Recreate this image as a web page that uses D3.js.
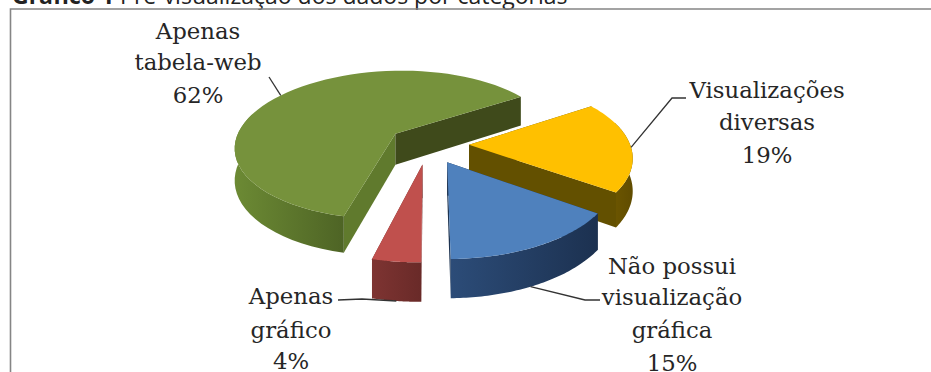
<!DOCTYPE html>
<html lang="pt">
<head>
<meta charset="utf-8">
<script src="https://cdn.jsdelivr.net/npm/d3@7"></script>
<style>
  html, body { margin: 0; padding: 0; background: #fff; overflow: hidden; }
  svg { display: block; }
  .caption { font-family: "Open Sans", sans-serif; font-size: 23px; fill: #222; }
  .label { font-family: "DejaVu Serif", serif; font-size: 22.8px; fill: #262626; text-anchor: middle; }
  .leader { fill: none; stroke: #333; stroke-width: 1.3; }
</style>
</head>
<body>
<svg id="chart" width="931" height="372"></svg>
<script>
// Categories and shares, in clockwise drawing order
const categories = ["Visualizações diversas", "Não possui visualização gráfica", "Apenas gráfico", "Apenas tabela-web"];
const shares = [19, 15, 4, 62];
const labelLines = [
  ["Visualizações", "diversas", "19%"],
  ["Não possui", "visualização", "gráfica", "15%"],
  ["Apenas", "gráfico", "4%"],
  ["Apenas", "tabela-web", "62%"]
];
const labelCentres = [767, 672, 291, 198];
const labelBaselines = [
  [98, 130, 163],
  [274, 305, 338, 371],
  [304, 338, 369],
  [39, 70, 103]
];
// Elbow and end of each leader line, and where along the slice rim it starts
const leaderBends = [[672, 98, 686, 98], [585, 300, 600, 300], [362, 299, 338, 300], [269, 77, 269, 77]];
const leaderAnchors = [0.52, 0.556, 0.5, 0.5];

const topColours = ["#ffc000", "#4f81bd", "#c0504d", "#76923c"];
const rimColours = [["#6b5500", "#604c00"], ["#2c4c78", "#1c3150"], ["#7e3432", "#692a28"], ["#6c8a34", "#4e6425"]];
const radialColours = [["#635000", "#635000"], ["#1d3350", "#1d3350"], ["#6a2b29", "#6a2b29"], ["#607a2d", "#3f4a1b"]];

const svg = d3.select("#chart");

// Caption above the frame; its upper part runs off the page
const caption = svg.append("text").attr("class", "caption").attr("x", 12).attr("y", 4);
caption.append("tspan").attr("font-weight", 700).text("Gráfico 1");
caption.append("tspan").text(" Pré-visualização dos dados por categorias");

svg.append("path").attr("d", "M10.5,372V9H931").attr("fill", "none").attr("stroke", "#858585").attr("stroke-width", 1.6);

// Tilted disc with perspective: near points spread out, vanishing towards x = vanishX
const originY = 132, vanishX = 447, vanishU = 50 / 157, persp = 0.15;
const sx = d3.scaleLinear().domain([-1, 1]).range([-157, 157]);
const sy = d3.scaleLinear().domain([-1, 1]).range([72, -72]);
const depth = 31;
const explode = 0.255, hubU = 0.2, hubT = -0.17;

function project(u, t, down) {
  const w = 1 + persp * t;
  return [vanishX + sx(u - vanishU) / w, originY + sy(t) / w + (down ? depth / w : 0)];
}

const startDeg = 56.6;
const pie = d3.pie().sort(null).value(d => d)
  .startAngle(startDeg * Math.PI / 180).endAngle((startDeg + 360) * Math.PI / 180);
const slices = pie(shares);
const line = d3.line();
const defs = svg.append("defs");

function rimAngles(s) {
  const n = 60;
  return d3.range(n + 1).map(i => s.startAngle + (s.endAngle - s.startAngle) * i / n);
}

const leaders = [];

// Paint order keeps the large rear slice behind the three in front
[3, 0, 1, 2].forEach(i => {
  const s = slices[i];
  const mid = (s.startAngle + s.endAngle) / 2;
  const au = hubU + explode * Math.sin(mid);
  const at = hubT + explode * Math.cos(mid);
  const angles = rimAngles(s);
  const rim = angles.map(a => [au + Math.sin(a), at + Math.cos(a)]);
  const g = svg.append("g");
  g.append("title").text(categories[i]);

  const upper = rim.map(p => project(p[0], p[1], false));
  const lower = rim.map(p => project(p[0], p[1], true));

  // Cut faces first, so the outer wall sits in front of them
  const apexTop = project(au, at, false), apexBase = project(au, at, true);
  const wall = (k, colour) => {
    g.append("path").attr("d", line([apexTop, upper[k], lower[k], apexBase]) + "Z").attr("fill", colour);
  };
  wall(0, radialColours[i][0]);
  wall(rim.length - 1, radialColours[i][1]);

  // Outer wall: only the stretch of rim that faces the viewer
  const facing = angles.map(a => Math.cos(a) < 0.3);
  const wallUpper = upper.filter((p, k) => facing[k]);
  const wallLower = lower.filter((p, k) => facing[k]);
  const xr = d3.extent(wallUpper, p => p[0]);
  const grad = defs.append("linearGradient").attr("id", "rim" + i)
    .attr("gradientUnits", "userSpaceOnUse")
    .attr("x1", xr[0]).attr("x2", xr[1]).attr("y1", 0).attr("y2", 0);
  grad.append("stop").attr("offset", 0).attr("stop-color", rimColours[i][0]);
  grad.append("stop").attr("offset", 1).attr("stop-color", rimColours[i][1]);
  g.append("path").attr("d", line(wallUpper.concat(wallLower.slice().reverse())) + "Z").attr("fill", `url(#rim${i})`);

  g.append("path").attr("d", line([apexTop].concat(upper)) + "Z").attr("fill", topColours[i]);

  // The two front slices carry their leader from the lower rim
  const k = Math.round(leaderAnchors[i] * (rim.length - 1));
  const start = (i === 1 || i === 2) ? lower[k] : upper[k];
  const b = leaderBends[i];
  leaders.push(line([start, [b[0], b[1]], [b[2], b[3]]]));
});

// Leaders stay above every slice
svg.selectAll(".leader").data(leaders).join("path").attr("class", "leader").attr("d", d => d);

labelLines.forEach((lines, i) => {
  lines.forEach((l, j) => {
    svg.append("text").attr("class", "label").attr("x", labelCentres[i]).attr("y", labelBaselines[i][j]).text(l);
  });
});
</script>
</body>
</html>
